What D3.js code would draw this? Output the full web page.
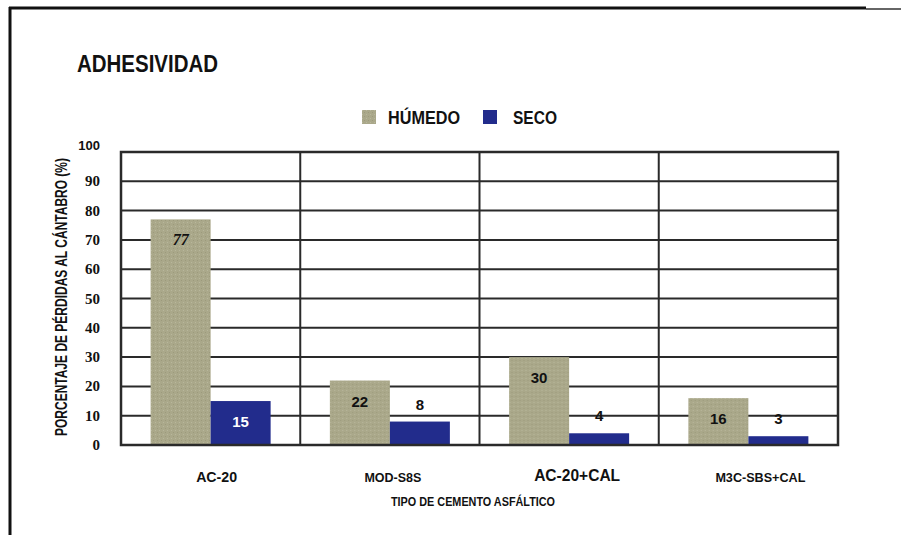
<!DOCTYPE html>
<html><head><meta charset="utf-8">
<script src="https://cdn.jsdelivr.net/npm/d3@7"></script>
<style>
html,body{margin:0;padding:0;background:#fff;}
svg{display:block;}
text{font-family:"Liberation Sans",Arial,sans-serif;font-weight:bold;fill:#111;}
text.serif{font-family:"Liberation Serif","Times New Roman",serif;}
</style></head>
<body>
<svg id="chart" width="901" height="535"></svg>
<script>
const categories = ["AC-20", "MOD-S8S", "AC-20+CAL", "M3C-SBS+CAL"];
const series = ["HÚMEDO", "SECO"];
const humedo = [77, 22, 30, 16];
const seco = [15, 8, 4, 3];
const yTicks = [0, 10, 20, 30, 40, 50, 60, 70, 80, 90, 100];
const title = "ADHESIVIDAD";
const yTitle = "PORCENTAJE DE PÉRDIDAS AL CÁNTABRO (%)";
const xTitle = "TIPO DE CEMENTO ASFÁLTICO";

const colors = {"HÚMEDO": "#aaa88a", "SECO": "#222c8c"};
const svg = d3.select("#chart");
const m = {left: 121, right: 838, top: 152, bottom: 445};

// subtle texture for HÚMEDO
const defs = svg.append("defs");
const pat = defs.append("pattern").attr("id", "hum").attr("width", 4).attr("height", 4).attr("patternUnits", "userSpaceOnUse");
pat.append("rect").attr("width", 4).attr("height", 4).attr("fill", colors["HÚMEDO"]);
pat.append("rect").attr("x", 0).attr("y", 0).attr("width", 1).attr("height", 1).attr("fill", "#9c9a7c");
pat.append("rect").attr("x", 2).attr("y", 2).attr("width", 1).attr("height", 1).attr("fill", "#b8b79c");

// frame
svg.append("line").attr("x1", 9).attr("x2", 866).attr("y1", 8).attr("y2", 8).attr("stroke", "#111").attr("stroke-width", 3);
svg.append("line").attr("x1", 866).attr("x2", 901).attr("y1", 9).attr("y2", 9).attr("stroke", "#333").attr("stroke-width", 1.5);
svg.append("line").attr("x1", 10).attr("x2", 10).attr("y1", 7).attr("y2", 535).attr("stroke", "#111").attr("stroke-width", 3);

const x = d3.scaleBand().domain(categories).range([m.left, m.right]).padding(0);
const barW = 60;
const x1 = d3.scaleBand().domain(series)
  .range([(x.bandwidth() - 2 * barW) / 2, (x.bandwidth() + 2 * barW) / 2]).padding(0);
const y = d3.scaleLinear().domain([0, 100]).range([m.bottom, m.top]);

// grid
const g = svg.append("g");
g.selectAll("line.h").data(yTicks).join("line")
  .attr("x1", m.left).attr("x2", m.right)
  .attr("y1", d => y(d)).attr("y2", d => y(d))
  .attr("stroke", "#2a2a2a").attr("stroke-width", 2);
g.selectAll("line.v").data(categories.slice(1)).join("line")
  .attr("x1", d => x(d)).attr("x2", d => x(d))
  .attr("y1", m.top).attr("y2", m.bottom)
  .attr("stroke", "#2a2a2a").attr("stroke-width", 2);

// bars
const data = categories.map((c, i) => ({cat: c, vals: [{s: "HÚMEDO", v: humedo[i]}, {s: "SECO", v: seco[i]}]}));
const groups = svg.selectAll("g.grp").data(data).join("g").attr("transform", d => `translate(${x(d.cat)},0)`);
groups.selectAll("rect").data(d => d.vals).join("rect")
  .attr("x", d => x1(d.s)).attr("width", x1.bandwidth())
  .attr("y", d => y(d.v)).attr("height", d => m.bottom - y(d.v))
  .attr("fill", d => d.s === "HÚMEDO" ? "url(#hum)" : colors[d.s]);
groups.selectAll("text").data(d => d.vals).join("text")
  .attr("class", d => d.v === 77 ? "serif" : null)
  .attr("x", d => x1(d.s) + x1.bandwidth() / 2)
  .attr("y", d => d.v >= 15 ? y(d.v) + 26 : y(d.v) - 12)
  .attr("text-anchor", "middle").attr("font-size", d => d.v === 77 ? 16 : 15)
  .style("fill", d => (d.s === "SECO" && d.v >= 15) ? "#fff" : "#111")
  .style("font-style", d => d.v === 77 ? "italic" : null)
  .text(d => d.v);

// border of plot
svg.append("rect").attr("x", m.left).attr("y", m.top).attr("width", m.right - m.left).attr("height", m.bottom - m.top)
  .attr("fill", "none").attr("stroke", "#2a2a2a").attr("stroke-width", 2.5);

// y tick labels
svg.selectAll("text.yt").data(yTicks).join("text")
  .attr("class", d => d === 100 ? "yt" : "yt serif")
  .attr("x", 100).attr("y", d => y(d) + (d === 100 ? -2 : 5))
  .attr("text-anchor", "end").attr("font-size", d => d === 100 ? 13 : 15)
  .text(d => d);

// x labels
const xSizes = [14, 13, 16, 13];
const xLens = [41, 57, 86, 90];
const xShift = [6, 3, 8, 12];
svg.selectAll("text.xl").data(categories).join("text").attr("class", "xl")
  .attr("x", (d, i) => x(d) + x.bandwidth() / 2 + xShift[i])
  .attr("y", (d, i) => i === 2 ? 481 : 482).attr("text-anchor", "middle")
  .attr("font-size", (d, i) => xSizes[i])
  .attr("textLength", (d, i) => xLens[i]).attr("lengthAdjust", "spacingAndGlyphs")
  .text(d => d);

svg.append("text").attr("x", 473).attr("y", 506).attr("text-anchor", "middle").attr("font-size", 12)
  .attr("textLength", 164).attr("lengthAdjust", "spacingAndGlyphs").text(xTitle);

svg.append("text").attr("transform", "translate(67,297) rotate(-90)").attr("text-anchor", "middle")
  .attr("font-size", 16).attr("textLength", 278).attr("lengthAdjust", "spacingAndGlyphs").text(yTitle);

svg.append("text").attr("x", 77).attr("y", 72).attr("font-size", 24)
  .attr("textLength", 141).attr("lengthAdjust", "spacingAndGlyphs").text(title);

// legend
const leg = svg.append("g");
const legX = [362, 483], legTX = [388, 513], legW = [72, 44];
series.forEach((s, i) => {
  leg.append("rect").attr("x", legX[i]).attr("y", 110).attr("width", 14).attr("height", 14)
    .attr("fill", s === "HÚMEDO" ? "url(#hum)" : colors[s]);
  leg.append("text").attr("x", legTX[i]).attr("y", 124).attr("font-size", 18)
    .attr("textLength", legW[i]).attr("lengthAdjust", "spacingAndGlyphs").text(s);
});
</script>
</body></html>
